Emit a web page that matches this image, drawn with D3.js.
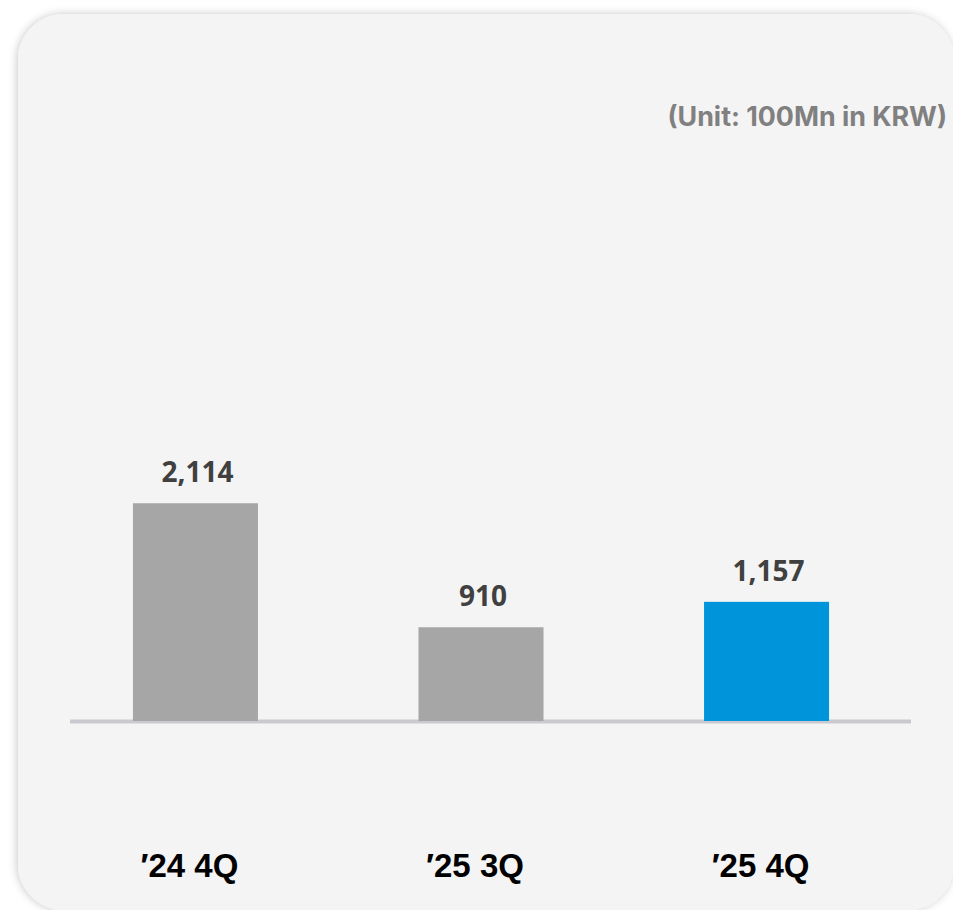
<!DOCTYPE html>
<html>
<head>
<meta charset="utf-8">
<script src="https://cdn.jsdelivr.net/npm/d3@7"></script>
<style>
  body { margin: 0; background: #fff; }
  svg { display: block; }
</style>
</head>
<body>
<svg id="chart"></svg>
<script>
// chart data
const quarters = ["\u203224 4Q", "\u203225 3Q", "\u203225 4Q"];
const revenue = [2114, 910, 1157];
const barColors = ["#a6a6a6", "#a6a6a6", "#0095da"];
const unitLabel = "(Unit: 100Mn in KRW)";

const width = 953, height = 910;

const svg = d3.select("#chart")
    .attr("width", width)
    .attr("height", height);

// card shadow
const defs = svg.append("defs");
const shadow = defs.append("filter")
    .attr("id", "shadow")
    .attr("x", "-10%").attr("y", "-10%")
    .attr("width", "120%").attr("height", "120%");
shadow.append("feDropShadow")
    .attr("dx", -1).attr("dy", 0)
    .attr("stdDeviation", 4)
    .attr("flood-color", "#000")
    .attr("flood-opacity", 0.22);

svg.append("rect")
    .attr("x", 18).attr("y", 14)
    .attr("width", 936).attr("height", 896)
    .attr("rx", 46).attr("ry", 46)
    .attr("fill", "#f4f4f4")
    .attr("filter", "url(#shadow)");

// unit text
svg.append("text")
    .attr("x", 947)
    .attr("y", 126)
    .attr("text-anchor", "end")
    .style("font-family", "Inter, 'Noto Sans', sans-serif")
    .style("font-weight", 700)
    .style("font-size", "26.8px")
    .attr("fill", "#808080")
    .text(unitLabel);

const data = quarters.map((q, i) => ({ q: q, v: revenue[i], c: barColors[i] }));

const xscale = d3.scaleBand()
    .domain(quarters)
    .range([33, 929])
    .paddingInner(0.5622)
    .paddingOuter(0.35);

const yscale = d3.scaleLinear()
    .domain([0, 2500])
    .range([721, 463.5]);

// baseline
svg.append("line")
    .attr("x1", 70).attr("x2", 911)
    .attr("y1", 721.5).attr("y2", 721.5)
    .attr("stroke", "#c9c9d0")
    .attr("stroke-width", 4);

svg.selectAll(".bar")
    .data(data)
    .join("rect")
    .attr("class", "bar")
    .attr("x", d => xscale(d.q))
    .attr("y", d => yscale(d.v))
    .attr("width", xscale.bandwidth())
    .attr("height", d => yscale(0) - yscale(d.v))
    .attr("fill", d => d.c);

svg.selectAll(".val")
    .data(data)
    .join("text")
    .attr("class", "val")
    .attr("x", d => xscale(d.q) + xscale.bandwidth() / 2 + 2)
    .attr("y", d => yscale(d.v) - 21)
    .attr("text-anchor", "middle")
    .style("font-family", "'Open Sans', 'Noto Sans', sans-serif")
    .style("font-weight", 700)
    .style("font-size", "28px")
    .attr("fill", "#404040")
    .text(d => d3.format(",")(d.v));

// category labels
const xaxis = d3.axisBottom(xscale).tickSize(0).tickPadding(0);
const axisG = svg.append("g")
    .attr("transform", "translate(-6, 853)")
    .call(xaxis);
axisG.select(".domain").remove();
axisG.selectAll("text")
    .attr("dy", "0.72em")
    .style("font-family", "'Liberation Sans', Arial, sans-serif")
    .style("font-weight", 700)
    .style("font-size", "33px")
    .attr("fill", "#000");
</script>
</body>
</html>
